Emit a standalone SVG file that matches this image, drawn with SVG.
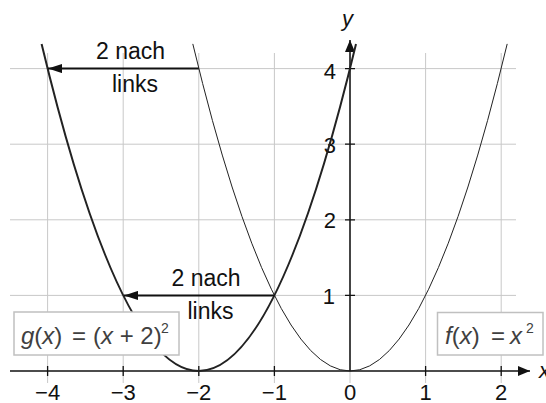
<svg xmlns="http://www.w3.org/2000/svg" width="546" height="403" viewBox="0 0 546 403">
<defs>
<marker id="ah" viewBox="0 0 12 10" refX="12" refY="5" markerWidth="12" markerHeight="10" markerUnits="userSpaceOnUse" orient="auto">
<path d="M0,0 L12,5 L0,10 Z" fill="#111"/>
</marker>
<marker id="ah2" viewBox="0 0 14 9" refX="14" refY="4.5" markerWidth="14" markerHeight="9" markerUnits="userSpaceOnUse" orient="auto">
<path d="M0,0 L14,4.5 L0,9 Z" fill="#111"/>
</marker>
</defs>
<style>
.grid{stroke:#c8c8c8;stroke-width:1;fill:none}
.axis{stroke:#111;stroke-width:1.5;fill:none}
.tick{stroke:#111;stroke-width:1.3}
.lbl{font-family:"Liberation Sans",Arial,sans-serif;font-size:22px;fill:#111}
.ann{font-family:"Liberation Sans",Arial,sans-serif;font-size:23px;fill:#111;text-anchor:middle}
.box{fill:#fff;stroke:#c0c0c0;stroke-width:1.5}
.ftxt{font-family:"Liberation Sans",Arial,sans-serif;font-size:24px;fill:#404040}
.it{font-style:italic}
</style>
<g id="grid">
<path class="grid" d="M47.6,53V383M123.2,53V383M198.8,53V383M274.4,53V383M350,53V383M425.6,53V383M501.2,53V383"/>
<path class="grid" d="M10,295.4H516M10,219.8H516M10,144.2H516M10,68.6H516"/>
</g>
<g id="axes">
<line class="axis" x1="10" y1="371" x2="530" y2="371" marker-end="url(#ah)"/>
<line class="axis" x1="350" y1="371" x2="350" y2="40" marker-end="url(#ah)"/>
<path class="tick" d="M47.6,366V376M123.2,366V376M198.8,366V376M274.4,366V376M425.6,366V376M501.2,366V376M345,295.4H355M345,219.8H355M345,144.2H355M345,68.6H355"/>
<text class="lbl it" x="539" y="378">x</text>
<text class="lbl it" x="342" y="26">y</text>
<g class="lbl" text-anchor="middle">
<text x="47.6" y="400">−4</text>
<text x="123.2" y="400">−3</text>
<text x="198.8" y="400">−2</text>
<text x="274.4" y="400">−1</text>
<text x="350" y="400">0</text>
<text x="425.6" y="400">1</text>
<text x="501.2" y="400">2</text>
</g>
<g class="lbl" text-anchor="end">
<text x="336" y="79">4</text>
<text x="336" y="153">3</text>
<text x="336" y="228">2</text>
<text x="335" y="304">1</text>
</g>
</g>
<g id="curve-f">
<path d="M192.8,43.9 Q350,698.1 507.2,43.9" fill="none" stroke="#222" stroke-width="1"/>
</g>
<g id="curve-g">
<path d="M41.6,43.9 Q198.8,698.1 356,43.9" fill="none" stroke="#222" stroke-width="2"/>
</g>
<g id="connectors">
<line x1="198.8" y1="68.6" x2="48" y2="68.6" stroke="#111" stroke-width="2" marker-end="url(#ah2)"/>
<line x1="274.4" y1="295.4" x2="124" y2="295.4" stroke="#111" stroke-width="2" marker-end="url(#ah2)"/>
</g>
<g id="shift-top">
<text class="ann" x="130.5" y="59">2 nach</text>
<text class="ann" x="135" y="92">links</text>
</g>
<g id="shift-bottom">
<text class="ann" x="206" y="286">2 nach</text>
<text class="ann" x="210.5" y="319">links</text>
</g>
<g id="label-g">
<rect class="box" x="14" y="312" width="165" height="43"/>
<text class="ftxt"><tspan class="it" x="21" y="344">g</tspan><tspan y="344">(</tspan><tspan class="it">x</tspan><tspan>)</tspan><tspan x="72">=</tspan><tspan x="93">(</tspan><tspan class="it">x</tspan><tspan> + 2)</tspan><tspan x="161" y="333" font-size="14">2</tspan></text>
</g>
<g id="label-f">
<rect class="box" x="437.5" y="312.5" width="105.5" height="42.5"/>
<text class="ftxt"><tspan class="it" x="445" y="344">f</tspan><tspan y="344">(</tspan><tspan class="it">x</tspan><tspan>)</tspan><tspan x="491">=</tspan><tspan class="it" x="510">x</tspan><tspan x="526" y="333" font-size="14">2</tspan></text>
</g>
</svg>
